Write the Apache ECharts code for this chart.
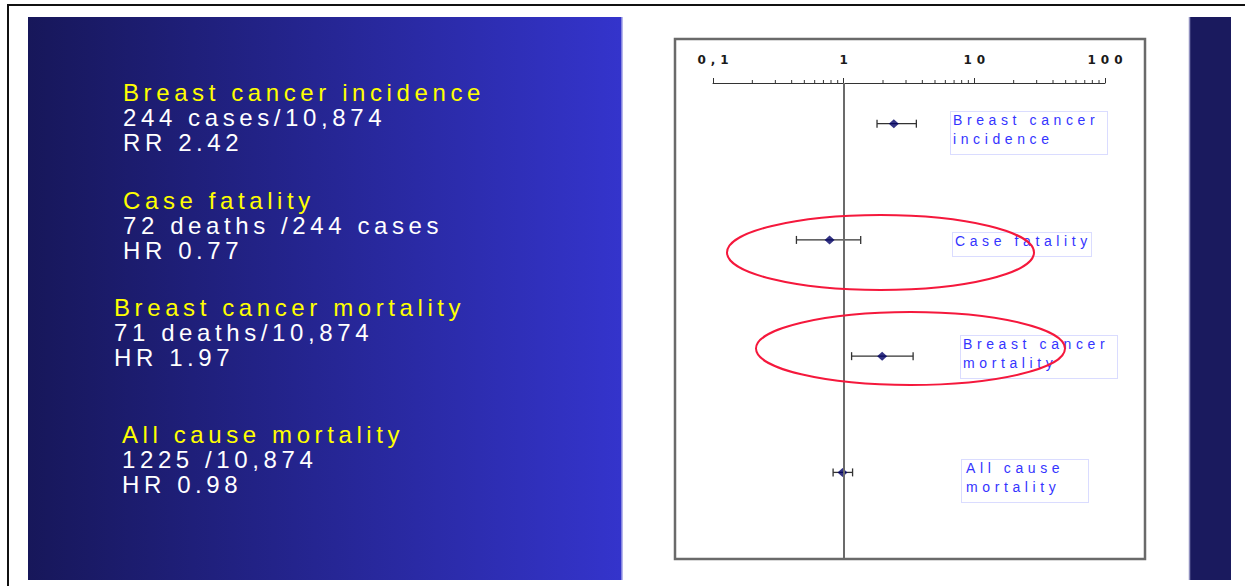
<!DOCTYPE html>
<html>
<head>
<meta charset="utf-8">
<style>
  html, body { margin: 0; padding: 0; background: #fff; }
  #chart { width: 1245px; height: 586px; }
</style>
<script src="https://cdn.jsdelivr.net/npm/echarts@6/dist/echarts.min.js"></script>
</head>
<body>
<div id="chart"></div>
<script>
// forest plot values
const outcomes = ['Breast cancer incidence', 'Case fatality', 'Breast cancer mortality', 'All cause mortality']
const ratios = [2.42, 0.78, 1.97, 0.98]
const lowerCI = [1.8, 0.435, 1.15, 0.83]
const upperCI = [3.6, 1.35, 3.4, 1.17]
const tickLabels = ['0,1', '1', '10', '100']
const minorTickValues = [0.2, 0.3, 0.4, 0.5, 0.6, 0.7, 0.8, 0.9, 2, 3, 4, 5, 6, 7, 8, 9, 20, 30, 40, 50, 60, 70, 80, 90]

// slide text on the left
const countLines = ['244 cases/10,874', '72 deaths /244 cases', '71 deaths/10,874', '1225 /10,874']
const ratioLines = ['RR 2.42', 'HR 0.77', 'HR 1.97', 'HR 0.98']
// labels in the plot boxes
const plotLabels = [['Breast cancer', 'incidence'], ['Case fatality'], ['Breast cancer', 'mortality'], ['All cause', 'mortality']]

// layout (pixels)
const leftTextPos = [[123, 92], [123, 200], [114, 307], [122, 434]]
const boxRects = [[950, 111, 157, 43], [952, 232, 139, 24], [960, 335, 157, 43], [961, 459, 127, 43]]
const boxTextPos = [[953, 120], [955, 241], [963, 344], [966, 468]]
const letterSpacing = { 24: 4.6, 14: 4.6, 12: 5 }
const yMin = -0.35
const yMax = 3.745

const chart = echarts.init(document.getElementById('chart'), null, { renderer: 'svg' })

const graphics = [
    { type: 'line', shape: { x1: 7, y1: 5, x2: 1245, y2: 5 }, style: { stroke: '#111', lineWidth: 2 } },
    { type: 'line', shape: { x1: 8, y1: 5, x2: 8, y2: 586 }, style: { stroke: '#111', lineWidth: 2 } },
    {
        type: 'rect',
        shape: { x: 28, y: 17, width: 594, height: 563 },
        style: {
            fill: new echarts.graphic.LinearGradient(0, 0, 1, 0, [
                { offset: 0, color: '#17175a' },
                { offset: 1, color: '#3434cc' },
            ]),
        },
    },
    { type: 'line', shape: { x1: 622, y1: 17, x2: 622, y2: 580 }, style: { stroke: '#a0a0e6', lineWidth: 1.5 } },
    { type: 'rect', shape: { x: 1189, y: 17, width: 42, height: 563 }, style: { fill: '#1a1a5e' } },
    { type: 'line', shape: { x1: 1189.5, y1: 17, x2: 1189.5, y2: 580 }, style: { stroke: '#9090c0', lineWidth: 1.5 } },
    {
        type: 'rect',
        z: -1,
        shape: { x: 675, y: 39, width: 470, height: 520 },
        style: { fill: '#fff', stroke: '#6a6a6a', lineWidth: 2.5 },
    },
]

outcomes.forEach((title, i) => {
    const [x, y] = leftTextPos[i]
    const lines = [
        { text: title, fill: '#ffff00' },
        { text: countLines[i], fill: '#ffffff' },
        { text: ratioLines[i], fill: '#ffffff' },
    ]
    lines.forEach((line, k) => {
        graphics.push({
            type: 'text',
            style: {
                text: line.text,
                x: x,
                y: y + k * 25,
                fill: line.fill,
                fontSize: 24,
                fontFamily: 'Liberation Sans',
                align: 'left',
                verticalAlign: 'middle',
            },
        })
    })

    const [bx, by, bw, bh] = boxRects[i]
    graphics.push({
        type: 'rect',
        shape: { x: bx + 0.5, y: by + 0.5, width: bw, height: bh },
        style: { fill: 'none', stroke: '#b4b8ff', lineWidth: 1, lineDash: [1, 1] },
    })
    plotLabels[i].forEach((text, k) => {
        graphics.push({
            type: 'text',
            style: {
                text: text,
                x: boxTextPos[i][0],
                y: boxTextPos[i][1] + k * 19,
                fill: '#3434ff',
                fontSize: 14,
                fontFamily: 'Liberation Sans',
                align: 'left',
                verticalAlign: 'middle',
            },
        })
    })
})

// red circles drawn over the plot
graphics.push(
    { type: 'ellipse', z: 50, shape: { cx: 880.5, cy: 252.5, rx: 153.5, ry: 37.5 }, style: { fill: 'none', stroke: '#f5183c', lineWidth: 2 } },
    { type: 'ellipse', z: 50, shape: { cx: 910.5, cy: 348.5, rx: 154.5, ry: 36.5 }, style: { fill: 'none', stroke: '#f5183c', lineWidth: 2 } }
)

const option = {
    animation: false,
    grid: {
        left: 713,
        right: 140,
        top: 83,
        bottom: 27,
    },
    xAxis: {
        type: 'log',
        logBase: 10,
        min: 0.1,
        max: 100,
        position: 'top',
        splitLine: { show: false },
        axisLine: { onZero: false, lineStyle: { color: '#333', width: 1 } },
        axisTick: { length: 5, lineStyle: { color: '#333', width: 1 } },
        axisLabel: {
            margin: 17,
            fontSize: 12,
            fontWeight: 'bold',
            fontFamily: 'DejaVu Sans',
            color: '#1a1a1a',
            padding: [0, 0, 0, 5],
            formatter: (value, index) => tickLabels[index],
        },
    },
    yAxis: {
        type: 'value',
        inverse: true,
        min: yMin,
        max: yMax,
        show: false,
    },
    graphic: graphics,
    series: [
        {
            type: 'custom',
            silent: true,
            renderItem: (params, api) => {
                const p = api.coord([api.value(0), yMin])
                return {
                    type: 'line',
                    shape: { x1: p[0], y1: p[1], x2: p[0], y2: p[1] - 3 },
                    style: { stroke: '#333', lineWidth: 1 },
                }
            },
            data: minorTickValues.map((v) => [v, yMin]),
        },
        {
            type: 'custom',
            silent: true,
            renderItem: (params, api) => {
                const row = api.value(0)
                const lo = api.coord([api.value(1), row])
                const hi = api.coord([api.value(2), row])
                const style = { stroke: '#333', lineWidth: 1.3 }
                return {
                    type: 'group',
                    children: [
                        { type: 'line', shape: { x1: lo[0], y1: lo[1], x2: hi[0], y2: hi[1] }, style },
                        { type: 'line', shape: { x1: lo[0], y1: lo[1] - 4, x2: lo[0], y2: lo[1] + 4 }, style },
                        { type: 'line', shape: { x1: hi[0], y1: hi[1] - 4, x2: hi[0], y2: hi[1] + 4 }, style },
                    ],
                }
            },
            encode: { x: [1, 2], y: 0 },
            data: outcomes.map((_, i) => [i, lowerCI[i], upperCI[i]]),
        },
        {
            type: 'scatter',
            symbol: 'diamond',
            symbolSize: [10, 9],
            itemStyle: { color: '#000066' },
            data: ratios.map((r, i) => [r, i]),
            markLine: {
                silent: true,
                symbol: 'none',
                label: { show: false },
                lineStyle: { color: '#6b6b6b', width: 2, type: 'solid' },
                data: [{ xAxis: 1 }],
            },
        },
    ],
}

chart.setOption(option)

// slide fonts are set with wide tracking
function spaceLetters() {
    document.querySelectorAll('#chart text').forEach((t) => {
        const size = parseFloat(getComputedStyle(t).fontSize)
        if (letterSpacing[size]) {
            t.style.letterSpacing = letterSpacing[size] + 'px'
        }
    })
}
spaceLetters()
chart.on('finished', spaceLetters)
</script>
</body>
</html>
